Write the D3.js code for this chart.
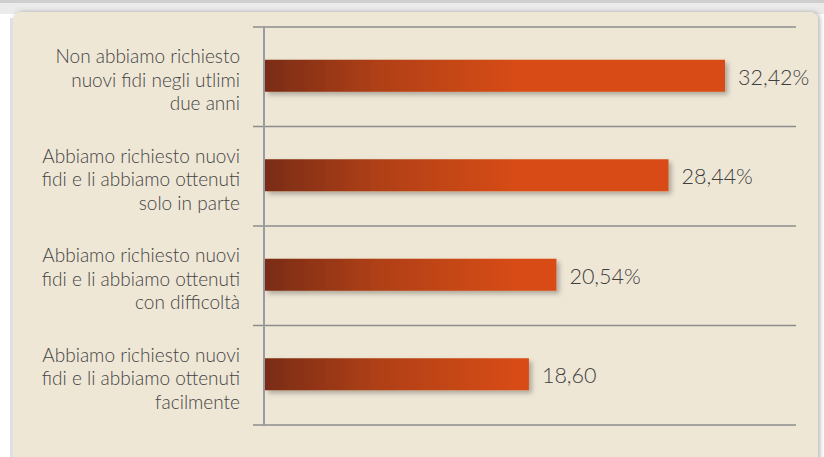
<!DOCTYPE html>
<html>
<head>
<meta charset="utf-8">
<script src="https://cdn.jsdelivr.net/npm/d3@7"></script>
<style>
  html, body { margin: 0; padding: 0; background: #ffffff; }
  svg { display: block; }
  .cat { font-family: Lato, "Open Sans", sans-serif; font-weight: 300; font-size: 19px; fill: #444444; }
  .val { font-family: Lato, "Open Sans", sans-serif; font-weight: 300; font-size: 21.5px; fill: #3f3f3f; }
</style>
</head>
<body>
<script>
// categories, one array of lines each
var categories = [
	["Non abbiamo richiesto", "nuovi fidi negli utlimi", "due anni"],
	["Abbiamo richiesto nuovi", "fidi e li abbiamo ottenuti", "solo in parte"],
	["Abbiamo richiesto nuovi", "fidi e li abbiamo ottenuti", "con difficoltà"],
	["Abbiamo richiesto nuovi", "fidi e li abbiamo ottenuti", "facilmente"]
];
var values = [32.42, 28.44, 20.54, 18.60];
var valueLabels = ["32,42%", "28,44%", "20,54%", "18,60"];

var W = 824, H = 457;

var svg = d3.select("body").append("svg")
	.attr("width", W)
	.attr("height", H);

var defs = svg.append("defs");

var barGrad = defs.append("linearGradient")
	.attr("id", "barGrad")
	.attr("gradientUnits", "userSpaceOnUse")
	.attr("x1", 265).attr("x2", 520)
	.attr("y1", 0).attr("y2", 0);
barGrad.append("stop").attr("offset", 0).attr("stop-color", "#7a2c12");
barGrad.append("stop").attr("offset", 0.45).attr("stop-color", "#b04015");
barGrad.append("stop").attr("offset", 1).attr("stop-color", "#d84c13");

var shadow = defs.append("filter").attr("id", "shadow")
	.attr("x", "-10%").attr("y", "-30%").attr("width", "130%").attr("height", "180%");
shadow.append("feDropShadow")
	.attr("dx", 3).attr("dy", 3).attr("stdDeviation", 2.5)
	.attr("flood-color", "#000").attr("flood-opacity", 0.28);

var panelShadow = defs.append("filter").attr("id", "panelShadow")
	.attr("x", "-5%").attr("y", "-5%").attr("width", "110%").attr("height", "110%");
panelShadow.append("feDropShadow")
	.attr("dx", 2).attr("dy", 0).attr("stdDeviation", 2.5)
	.attr("flood-color", "#5a5a5a").attr("flood-opacity", 0.45);

// top strip
svg.append("rect").attr("x", 0).attr("y", 0).attr("width", W).attr("height", 14).attr("fill", "#ebebeb");
svg.append("rect").attr("x", 0).attr("y", 0).attr("width", W).attr("height", 3).attr("fill", "#cfcfcf");

// panel
svg.append("rect")
	.attr("x", 13).attr("y", 12)
	.attr("width", 805).attr("height", H)
	.attr("rx", 8)
	.attr("fill", "#efe7d6")
	.attr("filter", "url(#panelShadow)");
svg.append("rect").attr("x", 10).attr("y", 18).attr("width", 3).attr("height", H).attr("fill", "#dde0e4");

var x = d3.scaleLinear()
	.domain([0, d3.max(values)])
	.range([265, 725]);

var y = d3.scaleBand()
	.domain(d3.range(categories.length))
	.range([27, 425]);

var bounds = y.domain().map(function(d){ return y(d); }).concat([y.range()[1]]);

// grid lines between categories
svg.append("g").selectAll("line")
	.data(bounds)
	.enter().append("line")
	.attr("x1", 253).attr("x2", 796)
	.attr("y1", function(d){ return d; })
	.attr("y2", function(d){ return d; })
	.attr("stroke", "#8c8c8c")
	.attr("stroke-width", 1.3);

// vertical axis
svg.append("line")
	.attr("x1", 264).attr("x2", 264)
	.attr("y1", y.range()[0]).attr("y2", y.range()[1] + 1)
	.attr("stroke", "#999ba0")
	.attr("stroke-width", 2);

// bars
var barH = 32;
svg.append("g").selectAll("rect")
	.data(values)
	.enter().append("rect")
	.attr("x", x(0))
	.attr("y", function(d, i){ return y(i) + y.bandwidth() / 2 - barH / 2 - 1; })
	.attr("width", function(d){ return x(d) - x(0); })
	.attr("height", barH)
	.attr("fill", "url(#barGrad)")
	.attr("filter", "url(#shadow)");

// value labels
svg.append("g").selectAll("text")
	.data(values)
	.enter().append("text")
	.attr("class", "val")
	.attr("x", function(d){ return x(d) + 13; })
	.attr("y", function(d, i){ return y(i) + y.bandwidth() / 2 + 8; })
	.text(function(d, i){ return valueLabels[i]; });

// category labels
var cat = svg.append("g").selectAll("text")
	.data(categories)
	.enter().append("text")
	.attr("class", "cat")
	.attr("text-anchor", "end");
cat.selectAll("tspan")
	.data(function(d, i){ return d.map(function(t, j){ return {t: t, i: i, j: j}; }); })
	.enter().append("tspan")
	.attr("x", 240)
	.attr("y", function(d){ return y(d.i) + y.bandwidth() / 2 + 10 + (d.j - 1) * 23.5; })
	.text(function(d){ return d.t; });
</script>
</body>
</html>
